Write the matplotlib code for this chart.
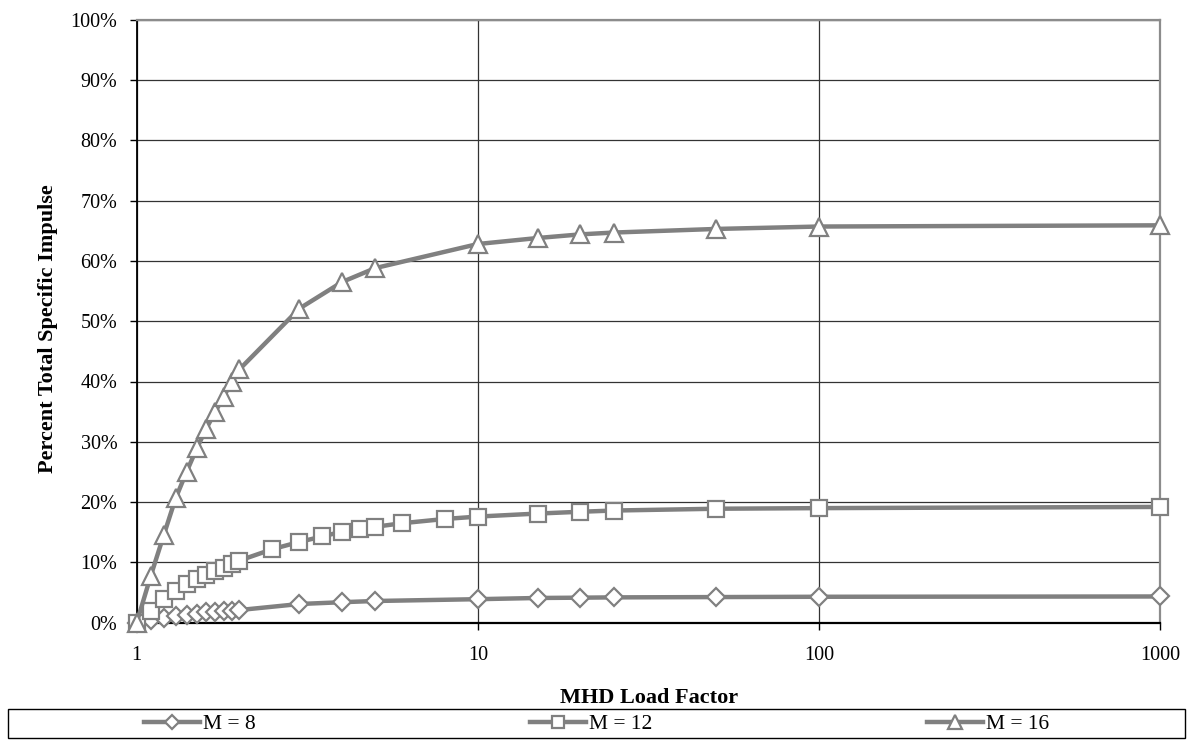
"""
plot.py
-------
Percent of total specific impulse vs MHD load factor for three Mach numbers.
Saves the figure to out.png (1188 x 740 px).
"""

import matplotlib

matplotlib.use("Agg")  # headless backend
import matplotlib.pyplot as plt
from matplotlib.patches import Rectangle
from matplotlib.ticker import FixedLocator, FuncFormatter, NullLocator

# --------------------------------------------------------------------------- #
# Data
# --------------------------------------------------------------------------- #
load_m8 = [1, 1.1, 1.2, 1.3, 1.4, 1.5, 1.6, 1.7, 1.8, 1.9, 2.0,
           3, 4, 5, 10, 15, 20, 25, 50, 100, 1000]
isp_m8 = [0.0, 0.5, 0.8, 1.1, 1.3, 1.5, 1.7, 1.8, 1.9, 2.0, 2.1,
          3.1, 3.4, 3.6, 3.9, 4.1, 4.15, 4.2, 4.25, 4.3, 4.35]

load_m12 = [1, 1.1, 1.2, 1.3, 1.4, 1.5, 1.6, 1.7, 1.8, 1.9, 2.0,
            2.5, 3, 3.5, 4, 4.5, 5, 6, 8, 10, 15, 20, 25, 50, 100, 1000]
isp_m12 = [0.0, 1.9, 3.9, 5.3, 6.4, 7.3, 7.9, 8.5, 9.0, 9.7, 10.3,
           12.2, 13.4, 14.3, 15.1, 15.6, 15.9, 16.5, 17.2, 17.6,
           18.1, 18.4, 18.6, 18.9, 19.0, 19.2]

load_m16 = [1, 1.1, 1.2, 1.3, 1.4, 1.5, 1.6, 1.7, 1.8, 1.9, 2.0,
            3, 4, 5, 10, 15, 20, 25, 50, 100, 1000]
isp_m16 = [0.0, 7.8, 14.5, 20.6, 25.0, 28.9, 32.2, 35.0, 37.5, 40.0, 42.0,
           52.1, 56.5, 58.8, 62.8, 63.8, 64.4, 64.7, 65.3, 65.7, 65.9]

series_labels = ["M = 8", "M = 12", "M = 16"]
x_ticks = [1, 10, 100, 1000]
y_ticks = list(range(0, 101, 10))

# --------------------------------------------------------------------------- #
# Styling
# --------------------------------------------------------------------------- #
W, H = 1188, 740
LINE_GRAY = "#808080"
FONT = ["Liberation Serif", "DejaVu Serif"]
TICK_FS = 14.5
TITLE_FS = 16
LEGEND_FS = 15.5

plt.rcParams["font.family"] = FONT


def px_x(p):
    return p / W


def px_y(p):
    # pixel row (from top) -> figure fraction (from bottom)
    return 1 - p / H


def main():
    fig = plt.figure(figsize=(W / 100, H / 100), dpi=100)
    left, right, top, bottom = 136.7, 1160, 19.7, 622.7
    ax = fig.add_axes([px_x(left), px_y(bottom),
                       px_x(right - left), (bottom - top) / H])

    # ---- series ------------------------------------------------------------
    data = [
        (load_m8, isp_m8, "D", 9.5),
        (load_m12, isp_m12, "s", 12),
        (load_m16, isp_m16, "^", 13),
    ]
    handles = []
    for (xs, ys, mk, ms), label in zip(data, series_labels):
        h, = ax.plot(xs, ys, color=LINE_GRAY, lw=3.2, marker=mk, ms=ms,
                     mfc="white", mec=LINE_GRAY, mew=1.6,
                     label=label, clip_on=False, zorder=3)
        handles.append(h)

    # ---- axes --------------------------------------------------------------
    ax.set_xscale("log")
    ax.set_xlim(1, 1000)
    ax.set_ylim(0, 100)
    ax.xaxis.set_major_locator(FixedLocator(x_ticks))
    ax.xaxis.set_minor_locator(NullLocator())
    ax.xaxis.set_major_formatter(FuncFormatter(lambda v, _: f"{v:g}"))
    ax.yaxis.set_major_locator(FixedLocator(y_ticks))
    ax.yaxis.set_major_formatter(FuncFormatter(lambda v, _: f"{v:.0f}%"))

    ax.grid(True, which="major", color="#333333", lw=0.9, zorder=1)
    ax.set_axisbelow(True)

    ax.tick_params(axis="y", direction="out", length=5, width=1,
                   pad=9, labelsize=TICK_FS, colors="black")
    ax.tick_params(axis="x", direction="out", length=5, width=1,
                   pad=12, labelsize=TICK_FS, colors="black")

    ax.spines["left"].set_color("black")
    ax.spines["left"].set_linewidth(1.3)
    ax.spines["bottom"].set_color("black")
    ax.spines["bottom"].set_linewidth(1.6)
    for side in ("top", "right"):
        ax.spines[side].set_color("#8c8c8c")
        ax.spines[side].set_linewidth(1.6)

    # ---- axis titles -------------------------------------------------------
    fig.text(px_x(48), px_y(473), "Percent Total Specific Impulse",
             rotation=90, ha="center", va="bottom",
             fontsize=TITLE_FS, fontweight="bold")
    fig.text(px_x(649), px_y(698), "MHD Load Factor",
             ha="center", va="center", fontsize=TITLE_FS, fontweight="bold")

    # ---- legend: framed box with three separately placed entries -----------
    fig.patches.append(Rectangle((px_x(8), px_y(738)), px_x(1177), 29 / H,
                                 transform=fig.transFigure, fill=False,
                                 edgecolor="black", lw=1.0))
    for h, x0 in zip(handles, (144, 530, 927)):
        fig.legend(handles=[h], loc="center left",
                   bbox_to_anchor=(px_x(x0), px_y(724)),
                   frameon=False, fontsize=LEGEND_FS, borderpad=0,
                   borderaxespad=0, handlelength=2.6, handletextpad=0.15,
                   markerscale=0.75)

    fig.savefig("out.png", dpi=100)
    plt.close(fig)


if __name__ == "__main__":
    main()
